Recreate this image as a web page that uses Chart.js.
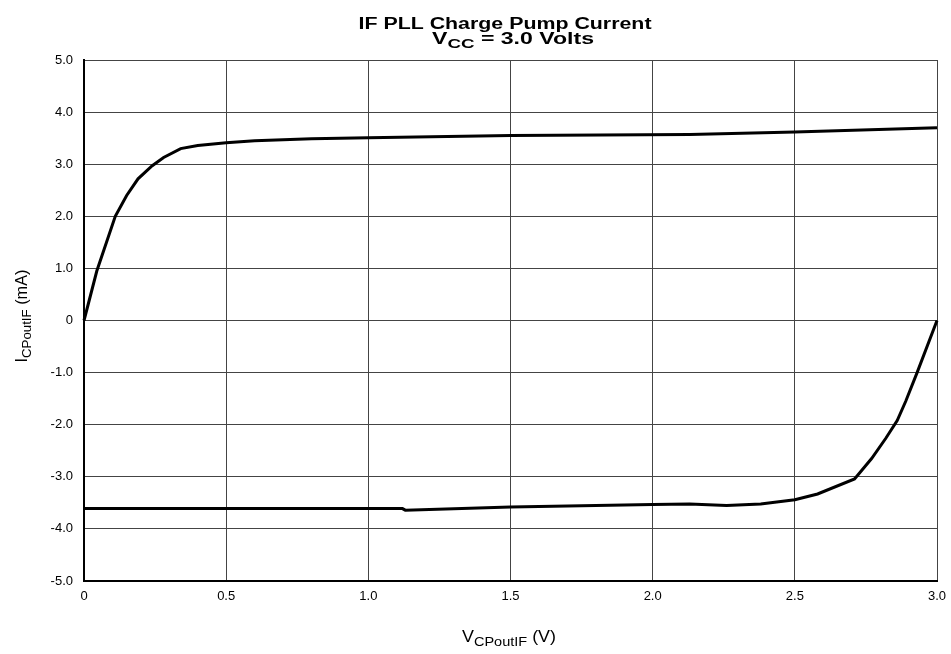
<!DOCTYPE html>
<html>
<head>
<meta charset="utf-8">
<script src="https://cdn.jsdelivr.net/npm/chart.js@4"></script>
<style>
html,body{margin:0;padding:0;background:#fff;}
#wrap{width:951px;height:654px;}
</style>
</head>
<body>
<div id="wrap"><canvas id="c" width="951" height="654"></canvas></div>
<script>
// ---- data ----
const sourcingV = [0, 0.045, 0.11, 0.15, 0.19, 0.24, 0.28, 0.34, 0.40, 0.50, 0.60, 0.80, 1.00, 1.50, 2.13, 2.50, 3.00];
const sourcingI = [0, 0.95, 2.00, 2.40, 2.72, 2.97, 3.13, 3.30, 3.36, 3.41, 3.45, 3.49, 3.51, 3.55, 3.57, 3.62, 3.70];

const sinkingV = [0, 1.12, 1.13, 1.50, 2.00, 2.13, 2.26, 2.38, 2.50, 2.58, 2.71, 2.77, 2.82, 2.86, 2.89, 2.93, 3.00];
const sinkingI = [-3.61, -3.61, -3.64, -3.58, -3.53, -3.52, -3.55, -3.52, -3.44, -3.33, -3.04, -2.65, -2.26, -1.92, -1.55, -1.00, 0];

const xTickValues = [0, 0.5, 1.0, 1.5, 2.0, 2.5, 3.0];
const xTickLabels = ['0', '0.5', '1.0', '1.5', '2.0', '2.5', '3.0'];
const yTickValues = [5, 4, 3, 2, 1, 0, -1, -2, -3, -4, -5];
const yTickLabels = ['5.0', '4.0', '3.0', '2.0', '1.0', '0', '-1.0', '-2.0', '-3.0', '-4.0', '-5.0'];

const titleLine1 = 'IF PLL Charge Pump Current';
const titleLine2 = ['V', 'CC', ' = 3.0 Volts'];
const yTitle = ['I', 'CPoutIF', ' (mA)'];
const xTitle = ['V', 'CPoutIF', ' (V)'];

function pts(xs, ys) { return xs.map((x, i) => ({ x: x, y: ys[i] })); }
function lookup(vals, labels, v) {
  for (let i = 0; i < vals.length; i++) if (Math.abs(vals[i] - v) < 1e-6) return labels[i];
  return '';
}

const FONT = '"Liberation Sans", Arial, sans-serif';

function measureSub(ctx, parts, size, bold) {
  const w = bold ? 'bold ' : '';
  const subSize = Math.round(size * 0.8);
  ctx.font = w + size + 'px ' + FONT;
  const w0 = ctx.measureText(parts[0]).width;
  const w2 = ctx.measureText(parts[2]).width;
  ctx.font = w + subSize + 'px ' + FONT;
  const w1 = ctx.measureText(parts[1]).width;
  return { w0, w1, w2, total: w0 + w1 + w2, subSize };
}

function drawSub(ctx, parts, x, y, size, bold, targetWidth) {
  const w = bold ? 'bold ' : '';
  const m = measureSub(ctx, parts, size, bold);
  const sx = targetWidth ? targetWidth / m.total : 1;
  ctx.save();
  ctx.translate(x, y);
  ctx.scale(sx, 1);
  const start = -m.total / 2;
  ctx.textAlign = 'left';
  ctx.textBaseline = 'alphabetic';
  ctx.fillStyle = '#000';
  ctx.font = w + size + 'px ' + FONT;
  ctx.fillText(parts[0], start, 0);
  ctx.font = w + m.subSize + 'px ' + FONT;
  ctx.fillText(parts[1], start + m.w0, size * 0.28);
  ctx.font = w + size + 'px ' + FONT;
  ctx.fillText(parts[2], start + m.w0 + m.w1, 0);
  ctx.restore();
}

const textPlugin = {
  id: 'texts',
  afterDraw(chart) {
    const ctx = chart.ctx;
    ctx.save();
    ctx.font = 'bold 16px ' + FONT;
    const natural = ctx.measureText(titleLine1).width;
    const sx = 293 / natural;
    ctx.save();
    ctx.translate(505, 29);
    ctx.scale(sx, 1);
    ctx.textAlign = 'center';
    ctx.textBaseline = 'alphabetic';
    ctx.fillStyle = '#000';
    ctx.fillText(titleLine1, 0, 0);
    ctx.restore();
    drawSub(ctx, titleLine2, 513, 44, 16, true, 162);
    drawSub(ctx, xTitle, 509, 642, 16, false, 94);
    ctx.save();
    ctx.translate(27, 316);
    ctx.rotate(-Math.PI / 2);
    drawSub(ctx, yTitle, 0, 0, 16, false, 93);
    ctx.restore();
    ctx.restore();
  }
};

new Chart(document.getElementById('c'), {
  type: 'line',
  data: {
    datasets: [
      { label: 'Source', data: pts(sourcingV, sourcingI), borderColor: '#000', borderWidth: 3, pointRadius: 0, tension: 0, fill: false },
      { label: 'Sink', data: pts(sinkingV, sinkingI), borderColor: '#000', borderWidth: 3, pointRadius: 0, tension: 0, fill: false }
    ]
  },
  options: {
    responsive: false,
    animation: false,
    devicePixelRatio: 1,
    clip: false,
    layout: { padding: { left: 0, right: 14, top: 60, bottom: 0 } },
    plugins: { legend: { display: false }, title: { display: false }, tooltip: { enabled: false } },
    scales: {
      x: {
        type: 'linear', min: 0, max: 3,
        afterFit(s) { s.height = 73; s.paddingLeft = 0; s.paddingRight = 0; },
        afterBuildTicks(s) { s.ticks = xTickValues.map(v => ({ value: v })); },
        ticks: { padding: 8, color: '#000', font: { family: FONT, size: 13 }, maxRotation: 0,
                 callback: v => lookup(xTickValues, xTickLabels, v) },
        grid: { color: '#444', lineWidth: 1, drawTicks: false },
        border: { display: true, color: '#000', width: 2 }
      },
      y: {
        type: 'linear', min: -5, max: 5,
        afterFit(s) { s.width = 84; s.paddingTop = 0; s.paddingBottom = 0; },
        afterBuildTicks(s) { s.ticks = yTickValues.map(v => ({ value: v })); },
        ticks: { padding: 11, color: '#000', font: { family: FONT, size: 13 },
                 callback: v => lookup(yTickValues, yTickLabels, v) },
        grid: { color: '#444', lineWidth: 1, drawTicks: false },
        border: { display: true, color: '#000', width: 2 }
      }
    }
  },
  plugins: [textPlugin]
});
</script>
</body>
</html>
